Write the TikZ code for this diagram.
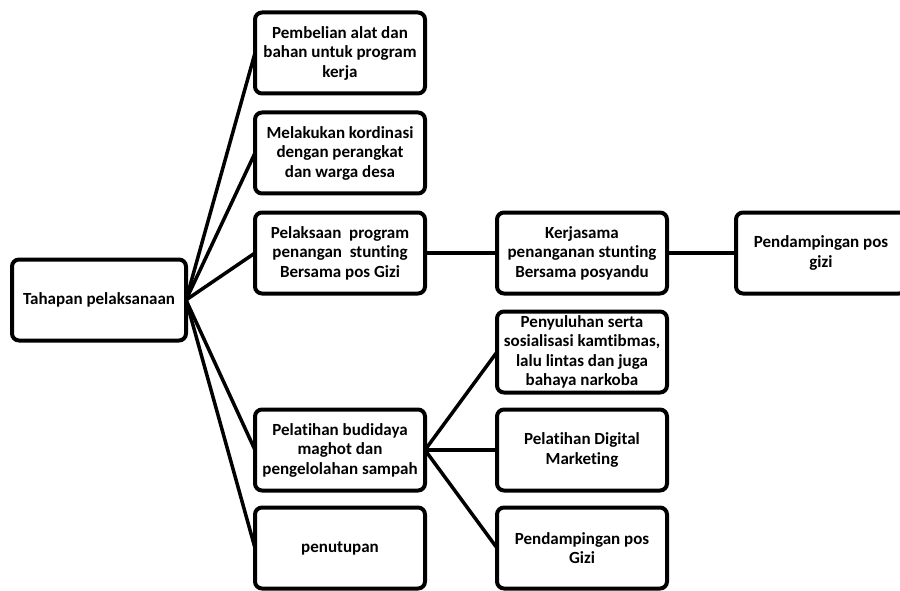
\documentclass[tikz,border=0pt]{standalone}
\usepackage{fontspec}
\setmainfont{Carlito}[Ligatures=NoCommon]
\usetikzlibrary{positioning}

\begin{document}
\begin{tikzpicture}[
    x=1pt, y=-1pt,
    node distance=17pt,
    box/.style={rectangle, rounded corners=7pt, minimum width=170pt, minimum height=81pt, inner sep=2pt, align=center, draw=black, line width=4pt, outer sep=0pt, font=\fontsize{17}{19.5}\selectfont\bfseries},
    link/.style={line width=3.5pt}
]
    \useasboundingbox (0,0) rectangle (900,591);
    \node[box, minimum width=174pt] (root) at (99,300) {Tahapan pelaksanaan};
    \node[box] (beli) at (340,53) {Pembelian alat dan\\bahan untuk program\\kerja};
    \node[box, below=19pt of beli] (kordinasi) {Melakukan kordinasi\\dengan perangkat\\dan warga desa};
    \node[box, below=19pt of kordinasi] (stunting) {Pelaksaan~ program\\penangan~ stunting\\Bersama pos Gizi};
    \node[box, below=116pt of stunting] (budidaya) {Pelatihan budidaya\\maghot dan\\pengelolahan sampah};
    \node[box, below=of budidaya] (tutup) {penutupan};
    \node[box, right=72pt of stunting] (posyandu) {Kerjasama\\penanganan stunting\\Bersama posyandu};
    \node[box, right=69pt of posyandu] (gizi) {Pendampingan pos\\gizi};
    \node[box, right=72pt of budidaya] (digital) {Pelatihan Digital\\Marketing};
    \node[box, above=of digital] (penyuluhan) {Penyuluhan serta\\sosialisasi kamtibmas,\\lalu lintas dan juga\\bahaya narkoba};
    \node[box, below=of digital] (gizidua) {Pendampingan pos\\Gizi};
    \draw[link] (root.east) -- (beli.west);
    \draw[link] (root.east) -- (kordinasi.west);
    \draw[link] (root.east) -- (stunting.west);
    \draw[link] (root.east) -- (budidaya.west);
    \draw[link] (root.east) -- (tutup.west);
    \draw[link] (stunting) -- (posyandu);
    \draw[link] (posyandu) -- (gizi);
    \draw[link] (budidaya.east) -- (penyuluhan.west);
    \draw[link] (budidaya.east) -- (digital.west);
    \draw[link] (budidaya.east) -- (gizidua.west);
\end{tikzpicture}
\end{document}
